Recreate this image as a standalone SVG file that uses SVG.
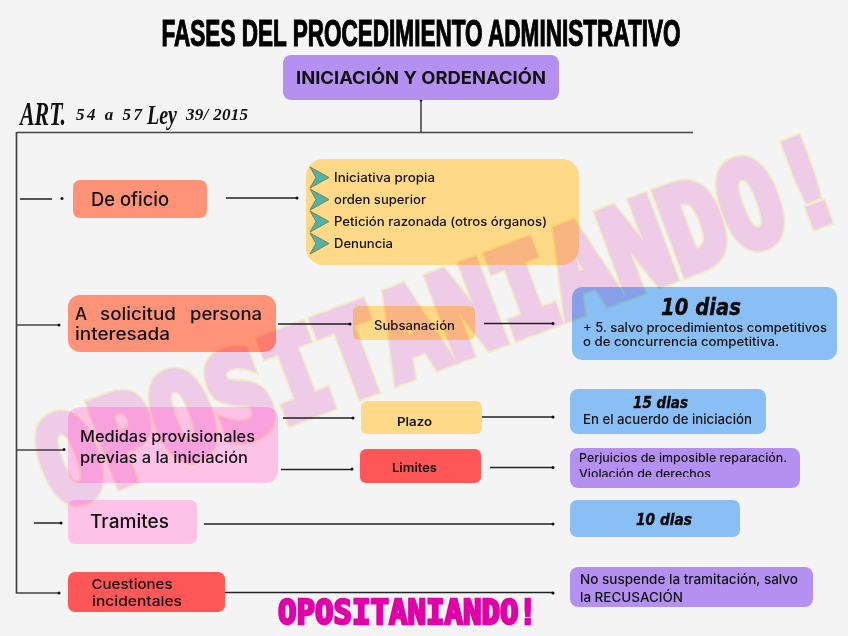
<svg xmlns="http://www.w3.org/2000/svg" xmlns:xlink="http://www.w3.org/1999/xlink" width="848" height="636" viewBox="0 0 848 636">
<style>
.t{font-family:Inter,"Open Sans","Liberation Sans",sans-serif;font-weight:500;fill:#111}
.b{font-weight:700}
.d{font-family:"DejaVu Sans",sans-serif;font-weight:700;font-style:italic;fill:#0a0a0a;stroke:#0a0a0a;stroke-width:.4}
.s{font-family:"Liberation Serif",serif;font-style:italic;font-weight:700;fill:#111}
.w{font-family:"DejaVu Sans Mono",monospace;font-weight:700}
.c{fill:none;stroke:#222;stroke-width:1.3}
.dot{fill:#111}
.pur{fill:#b491f0}.org{fill:#ff9378}.yel{fill:#fed987}.blu{fill:#8abff5}.pnk{fill:#fec1e8}.red{fill:#ff5757}
</style>
<defs>
<g id="arrow"><polygon points="310,-10.500 329,0 310,10.500 316,0" fill="#4fb3aa" stroke="#8a7a50" stroke-width="1"/></g>
<clipPath id="vclip"><rect x="570" y="465" width="230" height="12"/></clipPath>
</defs>
<rect width="848" height="636" fill="#f4f4f4"/>
<text x="421" y="46" text-anchor="middle" textLength="519" lengthAdjust="spacingAndGlyphs" style="font-family:'Liberation Sans Narrow','Liberation Sans',sans-serif;font-weight:700;font-size:37.500px;fill:#000;stroke:#000;stroke-width:1.200">FASES DEL PROCEDIMIENTO ADMINISTRATIVO</text>
<g id="ley">
<text class="s" x="20" y="125" font-size="34" textLength="46" lengthAdjust="spacingAndGlyphs">ART.</text>
<text class="s" x="76" y="120" font-size="17" textLength="66" lengthAdjust="spacing">54 a 57</text>
<text class="s" x="147" y="124" font-size="28" textLength="30" lengthAdjust="spacingAndGlyphs">Ley</text>
<text class="s" x="186" y="120" font-size="17" textLength="62" lengthAdjust="spacing">39/ 2015</text>
</g>
<g id="connectors">
<path class="c" d="M421 100V132"/>
<path d="M17 132.500H693M16.500 132V593H59M17 325H59M17 450H64" fill="none" stroke="#444" stroke-width="1.700"/>
<path class="c" d="M20 199H52M226 198H297M278 324H350M484 323.500H553M283 418H353M281 469.500H352M482 417H553M490 467.500H553M34 523H61M204 524H553M221 592.500H553"/>
<g class="dot">
<circle cx="421" cy="100" r="1.500"/><circle cx="62" cy="198.500" r="1.500"/><circle cx="297" cy="198" r="1.500"/><circle cx="59" cy="325" r="1.500"/><circle cx="350" cy="324" r="1.500"/><circle cx="553" cy="323.500" r="1.500"/><circle cx="64" cy="449.500" r="1.500"/><circle cx="353" cy="418" r="1.500"/><circle cx="352" cy="469" r="1.500"/><circle cx="553" cy="417" r="1.500"/><circle cx="553" cy="467.500" r="1.500"/><circle cx="61" cy="523" r="1.500"/><circle cx="553" cy="524" r="1.500"/><circle cx="59" cy="593" r="1.500"/><circle cx="553" cy="593" r="1.500"/>
</g>
</g>
<g id="n-iniciacion"><rect class="pur" x="283" y="55" width="276" height="45" rx="8"/><text class="t b" x="296" y="84" font-size="17.500" textLength="250" lengthAdjust="spacingAndGlyphs">INICIACIÓN Y ORDENACIÓN</text></g>
<g id="n-oficio"><rect class="org" x="73" y="180" width="134" height="38" rx="7"/><text class="t" x="91" y="205.500" font-size="18.500" textLength="78" lengthAdjust="spacingAndGlyphs">De oficio</text></g>
<g id="n-lista"><rect class="yel" x="306" y="159" width="273" height="106" rx="17"/>
<use xlink:href="#arrow" href="#arrow" y="177.500"/><use xlink:href="#arrow" href="#arrow" y="199.500"/><use xlink:href="#arrow" href="#arrow" y="221.500"/><use xlink:href="#arrow" href="#arrow" y="243.500"/>
<text class="t" x="334" y="182" font-size="12.500" textLength="101" lengthAdjust="spacingAndGlyphs">Iniciativa propia</text>
<text class="t" x="334" y="204" font-size="12.500" textLength="92" lengthAdjust="spacingAndGlyphs">orden superior</text>
<text class="t" x="334" y="225.500" font-size="12.500" textLength="213" lengthAdjust="spacingAndGlyphs">Petición razonada (otros órganos)</text>
<text class="t" x="334" y="247.500" font-size="12.500" textLength="59" lengthAdjust="spacingAndGlyphs">Denuncia</text></g>
<g id="n-solicitud"><rect class="org" x="68" y="295" width="208" height="57" rx="12"/>
<text class="t" y="320" font-size="17"><tspan x="75">A</tspan><tspan x="100" textLength="76" lengthAdjust="spacingAndGlyphs">solicitud</tspan><tspan x="190" textLength="72" lengthAdjust="spacingAndGlyphs">persona</tspan></text>
<text class="t" x="75" y="340" font-size="17" textLength="95" lengthAdjust="spacingAndGlyphs">interesada</text></g>
<g id="n-subsanacion"><rect class="yel" x="353" y="306" width="122" height="34" rx="6"/><text class="t" x="374" y="330" font-size="12.500" textLength="81" lengthAdjust="spacingAndGlyphs">Subsanación</text></g>
<g id="n-10a"><rect class="blu" x="572" y="287" width="265" height="73" rx="10"/>
<text class="d" x="661" y="315" font-size="23" textLength="80" lengthAdjust="spacingAndGlyphs">10 dias</text>
<text class="t" x="583" y="332" font-size="12.500" textLength="244" lengthAdjust="spacingAndGlyphs">+ 5. salvo procedimientos competitivos</text>
<text class="t" x="583" y="345.500" font-size="12.500" textLength="196" lengthAdjust="spacingAndGlyphs">o de concurrencia competitiva.</text></g>
<g id="n-medidas"><rect class="pnk" x="68" y="407" width="210" height="76" rx="12"/>
<text class="t" x="80" y="441.500" font-size="15.500" textLength="175" lengthAdjust="spacingAndGlyphs">Medidas provisionales</text>
<text class="t" x="80" y="463" font-size="15.500" textLength="168" lengthAdjust="spacingAndGlyphs">previas a la iniciación</text></g>
<g id="n-plazo"><rect class="yel" x="361" y="401" width="121" height="33" rx="6"/><text class="t" x="397" y="426" font-size="12" style="font-weight:600" textLength="35" lengthAdjust="spacingAndGlyphs">Plazo</text></g>
<g id="n-limites"><rect class="red" x="360" y="449" width="121" height="34" rx="6"/><text class="t" x="392" y="472" font-size="12" style="font-weight:600" textLength="45" lengthAdjust="spacingAndGlyphs">Limites</text></g>
<g id="n-15"><rect class="blu" x="570" y="389" width="196" height="45" rx="8"/>
<text class="d" x="633" y="408" font-size="15" textLength="55" lengthAdjust="spacingAndGlyphs">15 dias</text>
<text class="t" x="583" y="424" font-size="13" textLength="169" lengthAdjust="spacingAndGlyphs">En el acuerdo de iniciación</text></g>
<g id="n-perjuicios"><rect class="pur" x="570" y="448" width="230" height="40" rx="8"/>
<text class="t" x="579" y="462" font-size="12" textLength="208" lengthAdjust="spacingAndGlyphs">Perjuicios de imposible reparación.</text>
<text class="t" x="579" y="478" font-size="12" textLength="132" lengthAdjust="spacingAndGlyphs" clip-path="url(#vclip)">Violación de derechos</text></g>
<g id="n-tramites"><rect class="pnk" x="68" y="500" width="129" height="44" rx="7"/><text class="t" x="90" y="528" font-size="18.500" textLength="79" lengthAdjust="spacingAndGlyphs">Tramites</text></g>
<g id="n-10b"><rect class="blu" x="570" y="500" width="170" height="37" rx="7"/><text class="d" x="636" y="525" font-size="16" textLength="56" lengthAdjust="spacingAndGlyphs">10 dias</text></g>
<g id="n-cuestiones"><rect class="red" x="68" y="572" width="157" height="40" rx="7"/>
<text class="t" x="91.500" y="589" font-size="13.500" textLength="81" lengthAdjust="spacingAndGlyphs">Cuestiones</text>
<text class="t" x="92" y="606" font-size="13.500" textLength="90" lengthAdjust="spacingAndGlyphs">incidentales</text></g>
<g id="n-suspende"><rect class="pur" x="570" y="567" width="243" height="40" rx="8"/>
<text class="t" x="580" y="584" font-size="13" textLength="218" lengthAdjust="spacingAndGlyphs">No suspende la tramitación, salvo</text>
<text class="t" x="580" y="601.500" font-size="13" textLength="103" lengthAdjust="spacingAndGlyphs">la RECUSACIÓN</text></g>
<text class="w" x="278" y="624" font-size="33" textLength="259" lengthAdjust="spacingAndGlyphs" fill="#e000a8" stroke="#e000a8" stroke-width="2.500">OPOSITANIANDO!</text>
<g id="watermark" style="mix-blend-mode:multiply;isolation:isolate" transform="translate(56 509) rotate(-20.500)">
<text class="w" font-size="118" textLength="848" lengthAdjust="spacingAndGlyphs" fill="#fbf7d0" stroke="#fbf7d0" stroke-width="12">OPOSITANIANDO!</text>
<text class="w" font-size="118" textLength="848" lengthAdjust="spacingAndGlyphs" fill="#f9d5f3" stroke="#f9d5f3" stroke-width="8">OPOSITANIANDO!</text>
</g>
</svg>
